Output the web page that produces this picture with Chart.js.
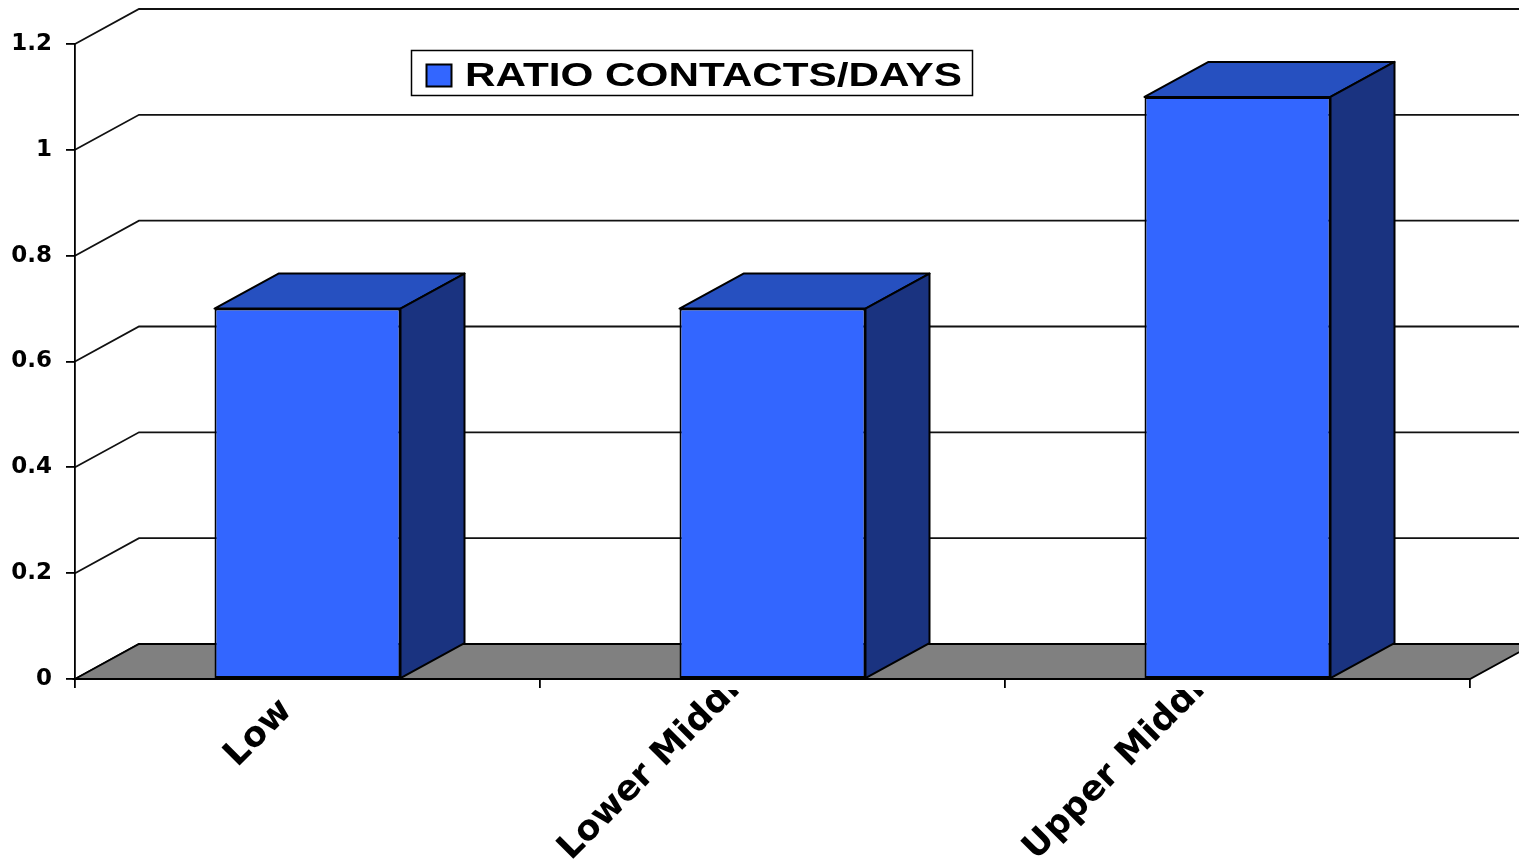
<!DOCTYPE html>
<html>
<head>
<meta charset="utf-8">
<title>Ratio contacts/days</title>
<script src="https://cdn.jsdelivr.net/npm/chart.js@4.4.1/dist/chart.umd.min.js"></script>
<style>
  html, body { margin: 0; padding: 0; background: #fff; }
  #wrap { width: 1519px; height: 861px; position: relative; }
</style>
</head>
<body>
<div id="wrap"><canvas id="ratioChart"></canvas></div>
<script>
// data
const categories = ['Low', 'Lower Middle', 'Upper Middle'];
const ratioValues = [0.7, 0.7, 1.1];
const seriesLabel = 'RATIO CONTACTS/DAYS';
const yMin = 0;
const yMax = 1.2;
const yStep = 0.2;

// 3d look
const DEPTH_X = 64;
const DEPTH_Y = -35;
const FRONT = '#3366FF';
const TOP = '#2650C0';
const SIDE = '#1A3380';
const FLOOR = '#808080';

const threeD = {
  id: 'threeD',
  beforeDraw(chart) {
    const { ctx, chartArea: area, scales } = chart;
    const y = scales.y;
    ctx.save();
    ctx.fillStyle = '#fff';
    ctx.fillRect(0, 0, chart.width, chart.height);

    // back wall + side wall grid lines
    ctx.strokeStyle = '#111';
    ctx.lineWidth = 1.8;
    y.ticks.forEach(t => {
      const py = y.getPixelForValue(t.value);
      ctx.beginPath();
      ctx.moveTo(area.left, py);
      ctx.lineTo(area.left + DEPTH_X, py + DEPTH_Y);
      ctx.lineTo(chart.width, py + DEPTH_Y);
      ctx.stroke();
    });

    // floor
    const base = y.getPixelForValue(yMin);
    ctx.beginPath();
    ctx.moveTo(area.left, base);
    ctx.lineTo(area.right, base);
    ctx.lineTo(area.right + DEPTH_X, base + DEPTH_Y);
    ctx.lineTo(area.left + DEPTH_X, base + DEPTH_Y);
    ctx.closePath();
    ctx.fillStyle = FLOOR;
    ctx.fill();
    ctx.strokeStyle = '#000';
    ctx.lineWidth = 1.8;
    ctx.stroke();
    ctx.restore();
  },
  afterDatasetsDraw(chart) {
    const { ctx } = chart;
    const meta = chart.getDatasetMeta(0);
    ctx.save();
    ctx.strokeStyle = '#000';
    ctx.lineWidth = 2;
    ctx.lineJoin = 'round';
    meta.data.forEach(bar => {
      const p = bar.getProps(['x', 'y', 'base', 'width'], true);
      const x0 = p.x - p.width / 2;
      const x1 = p.x + p.width / 2;
      // top face
      ctx.beginPath();
      ctx.moveTo(x0, p.y);
      ctx.lineTo(x1, p.y);
      ctx.lineTo(x1 + DEPTH_X, p.y + DEPTH_Y);
      ctx.lineTo(x0 + DEPTH_X, p.y + DEPTH_Y);
      ctx.closePath();
      ctx.fillStyle = TOP;
      ctx.fill();
      ctx.stroke();
      // side face
      ctx.beginPath();
      ctx.moveTo(x1, p.y);
      ctx.lineTo(x1 + DEPTH_X, p.y + DEPTH_Y);
      ctx.lineTo(x1 + DEPTH_X, p.base + DEPTH_Y);
      ctx.lineTo(x1, p.base);
      ctx.closePath();
      ctx.fillStyle = SIDE;
      ctx.fill();
      ctx.stroke();
    });
    ctx.restore();
  },
  afterDraw(chart) {
    const { ctx, chartArea: area, scales } = chart;
    const x = scales.x;

    // rotated category labels, cut off just under the axis like the original
    ctx.save();
    ctx.beginPath();
    ctx.rect(0, area.bottom + 11, chart.width, chart.height);
    ctx.clip();
    ctx.font = 'bold 35px "DejaVu Sans"';
    ctx.fillStyle = '#000';
    ctx.textAlign = 'right';
    ctx.textBaseline = 'alphabetic';
    const k = Math.SQRT1_2;
    categories.forEach((label, i) => {
      const w = ctx.measureText(label).width;
      let ex = x.getPixelForValue(i) - 14.5;
      let ey = area.bottom + 33;
      const startY = ey + w * k;
      if (startY > chart.height) ey -= startY - chart.height;
      ctx.save();
      ctx.translate(ex, ey);
      ctx.rotate(-Math.PI / 4);
      ctx.fillText(label, 0, 0);
      ctx.restore();
    });
    ctx.restore();

    // legend box
    ctx.save();
    ctx.fillStyle = '#fff';
    ctx.strokeStyle = '#000';
    ctx.lineWidth = 1.5;
    ctx.fillRect(411.5, 50.5, 561, 45);
    ctx.strokeRect(411.5, 50.5, 561, 45);
    ctx.fillStyle = FRONT;
    ctx.lineWidth = 2;
    ctx.fillRect(426.5, 64.5, 25, 22);
    ctx.strokeRect(426.5, 64.5, 25, 22);
    ctx.font = 'bold 33px "Liberation Sans"';
    ctx.fillStyle = '#000';
    ctx.textBaseline = 'middle';
    const tw = ctx.measureText(seriesLabel).width;
    ctx.translate(465, 76.5);
    ctx.scale(497 / tw, 1);
    ctx.fillText(seriesLabel, 0, 0);
    ctx.restore();
  }
};

const ctx = document.getElementById('ratioChart').getContext('2d');

new Chart(ctx, {
  type: 'bar',
  data: {
    labels: categories,
    datasets: [{
      label: seriesLabel,
      data: ratioValues,
      backgroundColor: FRONT,
      borderColor: '#000',
      borderWidth: 2,
      borderSkipped: false,
      barPercentage: 0.4,
      categoryPercentage: 1.0
    }]
  },
  options: {
    responsive: true,
    maintainAspectRatio: false,
    devicePixelRatio: 1,
    animation: false,
    layout: {
      padding: { top: 44, right: 49, bottom: 0, left: 0 }
    },
    plugins: {
      legend: { display: false },
      tooltip: { enabled: false }
    },
    scales: {
      x: {
        grid: {
          display: true,
          drawOnChartArea: false,
          drawTicks: true,
          tickLength: 9,
          color: '#000',
          lineWidth: 1.8
        },
        border: { display: true, color: '#000', width: 1.8 },
        ticks: { display: false },
        afterFit(scale) { scale.height = 182; }
      },
      y: {
        min: yMin,
        max: yMax,
        grid: {
          drawOnChartArea: false,
          drawTicks: true,
          tickLength: 9,
          color: '#000',
          lineWidth: 1.8
        },
        border: { display: true, color: '#000', width: 1.8 },
        ticks: {
          stepSize: yStep,
          padding: 14,
          color: '#000',
          font: { family: 'DejaVu Sans', size: 23, weight: 'bold' },
          callback: v => String(Number(v.toFixed(1)))
        },
        afterFit(scale) { scale.width = 75; }
      }
    }
  },
  plugins: [threeD]
});
</script>
</body>
</html>
